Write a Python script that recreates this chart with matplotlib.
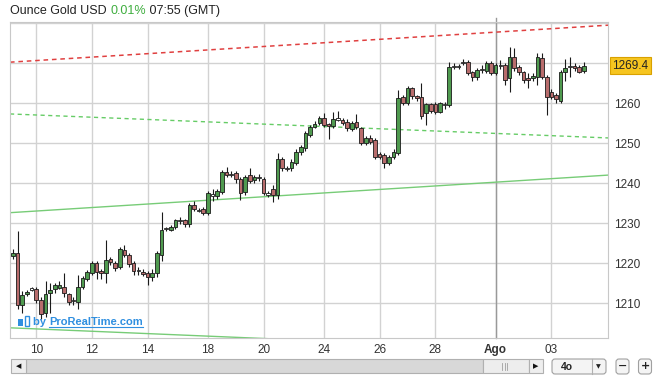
import matplotlib
matplotlib.use("Agg")
import matplotlib.pyplot as plt
from matplotlib.patches import Rectangle, FancyBboxPatch
import numpy as np

plt.rcParams['font.family'] = ['Liberation Sans', 'DejaVu Sans']

# 4h candles, Jul 10 -> Aug 4 (open, close, high, low)
opens = [1221.75, 1222.5, 1209.5, 1212.2, 1213.3, 1213.5, 1210.7, 1207.5, 1212.5, 1213.5,
         1213.7, 1214.0, 1212.2, 1210.5, 1210.3, 1214.0, 1216.0, 1217.5, 1220.0, 1218.0,
         1217.5, 1221.0, 1220.0, 1219.0, 1223.2, 1222.0, 1220.0, 1218.2, 1217.8, 1217.5,
         1216.5, 1217.5, 1222.0, 1228.5, 1228.3, 1229.0, 1230.5, 1230.8, 1229.8, 1234.5,
         1233.3, 1233.5, 1232.5, 1237.0, 1236.7, 1237.7, 1242.7, 1242.3, 1242.5, 1241.0,
         1237.7, 1242.0, 1240.7, 1241.3, 1241.0, 1237.3, 1238.5, 1237.0, 1246.0, 1243.7,
         1243.7, 1245.0, 1247.7, 1248.7, 1252.0, 1254.0, 1255.0, 1256.2, 1254.8, 1254.2,
         1256.2, 1255.8, 1255.2, 1253.5, 1255.2, 1253.7, 1250.0, 1251.2, 1250.7, 1247.2,
         1247.0, 1245.0, 1246.5, 1247.5, 1261.5, 1260.0, 1263.7, 1261.8, 1261.5, 1257.5,
         1259.7, 1259.8, 1257.8, 1259.7, 1259.5, 1269.0, 1269.2, 1270.0, 1270.3, 1267.7,
         1266.5, 1268.5, 1268.0, 1270.0, 1267.5, 1269.5, 1269.5, 1266.3, 1271.5, 1269.0,
         1267.7, 1266.3, 1266.2, 1266.5, 1271.3, 1266.5, 1262.7, 1262.0, 1260.5, 1267.7,
         1269.0, 1269.3, 1269.0, 1268.0]
closes = [1222.5, 1209.5, 1212.0, 1212.8, 1213.5, 1210.7, 1207.3, 1212.2, 1213.3, 1214.5,
          1214.4, 1212.5, 1210.3, 1210.8, 1214.0, 1216.3, 1217.8, 1220.0, 1217.8, 1217.5,
          1220.8, 1220.2, 1218.8, 1223.5, 1222.0, 1219.8, 1218.0, 1218.0, 1217.3, 1216.6,
          1217.5, 1222.5, 1228.3, 1228.7, 1229.0, 1230.7, 1230.7, 1229.8, 1234.5, 1233.5,
          1233.0, 1232.5, 1237.5, 1236.8, 1238.0, 1242.7, 1242.0, 1242.0, 1241.0, 1237.5,
          1241.5, 1240.5, 1241.5, 1241.5, 1237.5, 1237.1, 1237.0, 1246.0, 1243.7, 1243.5,
          1245.3, 1247.8, 1249.0, 1252.5, 1254.0, 1254.8, 1256.2, 1254.5, 1254.2, 1256.0,
          1255.8, 1255.0, 1253.7, 1255.0, 1254.0, 1250.0, 1251.2, 1250.3, 1246.5, 1246.6,
          1245.0, 1246.5, 1247.7, 1261.2, 1260.0, 1263.7, 1261.7, 1261.2, 1256.7, 1259.7,
          1258.0, 1257.8, 1260.0, 1259.5, 1269.0, 1269.3, 1269.0, 1270.2, 1267.5, 1266.5,
          1268.3, 1268.3, 1270.0, 1267.5, 1269.5, 1269.2, 1265.7, 1271.5, 1268.8, 1267.7,
          1265.7, 1265.8, 1266.8, 1271.5, 1266.5, 1261.5, 1261.5, 1261.0, 1267.7, 1268.7,
          1269.3, 1268.8, 1267.8, 1269.4]
highs = [1223.5, 1228.0, 1213.0, 1213.2, 1214.0, 1214.0, 1211.5, 1215.5, 1215.0, 1215.0,
         1215.5, 1217.5, 1212.5, 1211.5, 1217.0, 1216.8, 1218.3, 1220.5, 1220.5, 1218.5,
         1225.7, 1221.5, 1220.5, 1224.0, 1224.5, 1222.5, 1220.5, 1219.0, 1218.5, 1218.0,
         1218.5, 1223.0, 1232.7, 1229.0, 1229.5, 1231.0, 1231.5, 1231.0, 1235.0, 1235.5,
         1233.8, 1234.0, 1238.0, 1238.5, 1238.5, 1243.2, 1244.0, 1243.0, 1243.0, 1241.5,
         1242.0, 1243.8, 1242.0, 1242.3, 1241.5, 1238.0, 1239.5, 1247.5, 1246.5, 1244.2,
         1246.0, 1248.5, 1249.5, 1253.0, 1254.5, 1255.5, 1256.8, 1257.5, 1255.0, 1257.8,
         1258.0, 1256.3, 1256.0, 1255.5, 1257.3, 1254.0, 1251.7, 1252.0, 1251.2, 1247.8,
         1247.5, 1247.0, 1248.5, 1263.2, 1262.0, 1264.3, 1264.0, 1262.0, 1265.0, 1260.0,
         1260.0, 1260.2, 1260.3, 1260.3, 1270.3, 1270.0, 1269.7, 1271.0, 1270.8, 1268.0,
         1268.8, 1269.5, 1270.5, 1270.5, 1270.0, 1270.8, 1270.0, 1274.0, 1273.7, 1269.5,
         1268.0, 1267.5, 1267.5, 1272.5, 1272.5, 1267.0, 1263.5, 1262.5, 1268.2, 1271.0,
         1271.5, 1270.0, 1269.6, 1270.2]
lows = [1221.0, 1208.5, 1207.5, 1211.8, 1213.0, 1210.0, 1206.0, 1206.5, 1207.5, 1212.5,
        1213.5, 1211.5, 1209.5, 1209.5, 1208.5, 1213.5, 1215.5, 1217.0, 1216.0, 1216.0,
        1215.0, 1219.5, 1218.0, 1218.5, 1221.5, 1219.0, 1217.0, 1217.0, 1216.8, 1214.5,
        1215.5, 1216.5, 1220.5, 1228.0, 1228.0, 1228.5, 1229.8, 1229.0, 1229.0, 1233.0,
        1232.8, 1232.0, 1232.0, 1235.5, 1236.0, 1237.3, 1241.5, 1241.5, 1240.0, 1235.7,
        1237.0, 1240.0, 1240.0, 1240.5, 1237.0, 1236.5, 1235.2, 1236.0, 1243.0, 1243.0,
        1243.0, 1244.5, 1247.0, 1248.0, 1251.5, 1253.8, 1254.5, 1254.0, 1251.0, 1253.7,
        1255.5, 1254.5, 1253.0, 1253.0, 1253.5, 1249.5, 1249.5, 1249.7, 1246.0, 1246.0,
        1243.7, 1244.5, 1246.0, 1247.0, 1259.5, 1259.5, 1261.0, 1260.5, 1256.0, 1254.5,
        1257.5, 1257.3, 1257.5, 1258.5, 1259.0, 1268.5, 1268.5, 1269.5, 1267.0, 1265.5,
        1265.8, 1267.5, 1267.5, 1267.0, 1267.0, 1268.5, 1264.5, 1262.7, 1268.0, 1267.0,
        1265.0, 1263.8, 1265.5, 1264.5, 1266.0, 1257.0, 1261.0, 1260.0, 1260.0, 1265.5,
        1266.5, 1268.0, 1267.5, 1267.5]

tick_pos = [5, 17, 29, 42, 54, 67, 79, 91, 104, 116]
tick_labels = ['10', '12', '14', '18', '20', '24', '26', '28', 'Ago', '03']
price_ticks = [1210, 1220, 1230, 1240, 1250, 1260, 1270, 1280]
last_price = 1269.4

# trend lines: (x0, y0, x1, y1) in bar index / price
red_dashed = (-0.65, 1270.25, 128.2, 1279.5)
green_dashed = (-0.65, 1257.3, 128.2, 1251.3)
green_upper = (-0.65, 1232.6, 128.2, 1242.0)
green_lower = (-0.65, 1203.8, 128.2, 1197.5)

W, H = 660, 379
fig = plt.figure(figsize=(W / 100, H / 100), dpi=100)
ax = fig.add_axes([10 / W, 41 / H, 598 / W, 316 / H])
ax.set_xlim(-0.65, 128.2)
ax.set_ylim(1201.25, 1280.3)

ax.set_yticks(price_ticks)
ax.set_yticklabels([str(p) if p < 1270 else '' for p in price_ticks])
ax.yaxis.tick_right()
ax.set_xticks(tick_pos)
ax.set_xticklabels(tick_labels)
ax.tick_params(length=0, labelsize=8.5, colors='#333333')
ax.tick_params(axis='y', pad=4)
ax.tick_params(axis='x', pad=4)
for lab in ax.get_xticklabels():
    if lab.get_text() == 'Ago':
        lab.set_fontweight('bold')

ax.grid(True, color='#d2d2d2', linewidth=1)
ax.set_axisbelow(True)
ax.axvline(tick_pos[8], ymax=1.012, color='#999999', linewidth=1, zorder=1, clip_on=False)
for s in ax.spines.values():
    s.set_color('#c8c8c8')

# trend lines
ax.plot(red_dashed[::2], red_dashed[1::2], color='#e04040', ls=(0, (3, 2.5)), lw=1.1, zorder=2)
ax.plot(green_dashed[::2], green_dashed[1::2], color='#66cc66', ls=(0, (3, 2.5)), lw=1.0, zorder=2)
ax.plot(green_upper[::2], green_upper[1::2], color='#77cc77', lw=1.0, zorder=2)
ax.plot(green_lower[::2], green_lower[1::2], color='#77cc77', lw=1.0, zorder=2)

# candles
o = np.array(opens)
c = np.array(closes)
idx = np.arange(len(o))
up = c >= o
ax.vlines(idx, lows, highs, color='#1a1a1a', linewidth=0.8, zorder=3)
bottoms = np.minimum(o, c)
heights = np.maximum(np.abs(c - o), 0.35)
cols = np.where(up, '#4f9a4f', '#b86c6c')
small = np.abs(c - o) < 0.45
cols = np.where(small, '#ffffff', cols)
ax.bar(idx, heights, bottom=bottoms, width=0.78, color=cols, edgecolor='#1a1a1a',
       linewidth=0.6, zorder=4)

# last price box
ax.annotate(f'{last_price:.1f}', xy=(1.0, last_price), xycoords=('axes fraction', 'data'),
            xytext=(3, 0), textcoords='offset points', va='center', ha='left',
            fontsize=8.5, color='#222222',
            bbox=dict(boxstyle='square,pad=0.2', fc='#f6c520', ec='#d9a100', lw=0.8),
            annotation_clip=False)

# overlay in pixel coords for title, watermark and controls
ov = fig.add_axes([0, 0, 1, 1], facecolor='none')
ov.set_xlim(0, W)
ov.set_ylim(H, 0)
ov.axis('off')

t1 = ov.text(10, 11, 'Ounce Gold USD ', fontsize=9, color='#222222', va='center')
fig.canvas.draw()
r = fig.canvas.get_renderer()
inv = ov.transData.inverted()
x_end = inv.transform(t1.get_window_extent(r))[1][0]
t2 = ov.text(x_end, 11, '0.01%', fontsize=9, color='#3fae3f', va='center')
x_end = inv.transform(t2.get_window_extent(r))[1][0]
ov.text(x_end, 11, ' 07:55 (GMT)', fontsize=9, color='#222222', va='center')

# watermark
ov.add_patch(Rectangle((18, 319), 5, 7, fc='#2f8fe0', ec='none'))
ov.add_patch(Rectangle((25, 316), 4, 10, fc='white', ec='#2f8fe0', lw=1))
wm = ov.text(33, 322, 'by ', fontsize=8, fontweight='bold', color='#2f8fe0', va='center')
fig.canvas.draw()
x_end = inv.transform(wm.get_window_extent(r))[1][0]
wm2 = ov.text(x_end, 322, 'ProRealTime.com', fontsize=8, fontweight='bold', color='#2f8fe0',
              va='center')
bb = inv.transform(wm2.get_window_extent(r))
ov.plot([bb[0][0], bb[1][0]], [327, 327], color='#2f8fe0', lw=0.8)

# scrollbar
ov.add_patch(Rectangle((26, 359), 457, 14, fc='#d8d8d8', ec='#b0b0b0', lw=0.8))
ov.add_patch(Rectangle((483, 359), 46, 14, fc='#ededed', ec='#b0b0b0', lw=0.8))
for gx in [502, 504.5, 507]:
    ov.plot([gx, gx], [362.5, 369.5], color='#a0a0a0', lw=0.6)
ov.add_patch(Rectangle((11, 359), 15, 14, fc='#eeeeee', ec='#b0b0b0', lw=0.8))
ov.add_patch(Rectangle((529, 359), 14, 14, fc='#eeeeee', ec='#b0b0b0', lw=0.8))
ov.text(18.5, 366, '◀', fontsize=5, ha='center', va='center', color='#111111',
        family='DejaVu Sans')
ov.text(536, 366, '▶', fontsize=5, ha='center', va='center', color='#111111',
        family='DejaVu Sans')

# period dropdown and zoom buttons
ov.add_patch(FancyBboxPatch((552, 359), 54, 15, boxstyle='round,pad=0,rounding_size=3',
                            fc='#f4f4f4', ec='#a0a0a0', lw=0.8))
ov.plot([591.5, 591.5], [359, 374], color='#b0b0b0', lw=0.8)
ov.text(567, 366.5, '4o', fontsize=7.5, fontweight='bold', ha='center', va='center',
        color='#222222')
ov.text(598.5, 367, '▼', fontsize=4.5, ha='center', va='center', color='#222222',
        family='DejaVu Sans')
for bx, sym in [(616, '−'), (638.5, '+')]:
    ov.add_patch(FancyBboxPatch((bx, 359), 13, 15, boxstyle='round,pad=0,rounding_size=3',
                                fc='#f4f4f4', ec='#a0a0a0', lw=0.8))
    ov.text(bx + 6.5, 366.3, sym, fontsize=8, fontweight='bold', ha='center', va='center',
            color='#222222', family='DejaVu Sans')

fig.savefig('out.png', dpi=100)
